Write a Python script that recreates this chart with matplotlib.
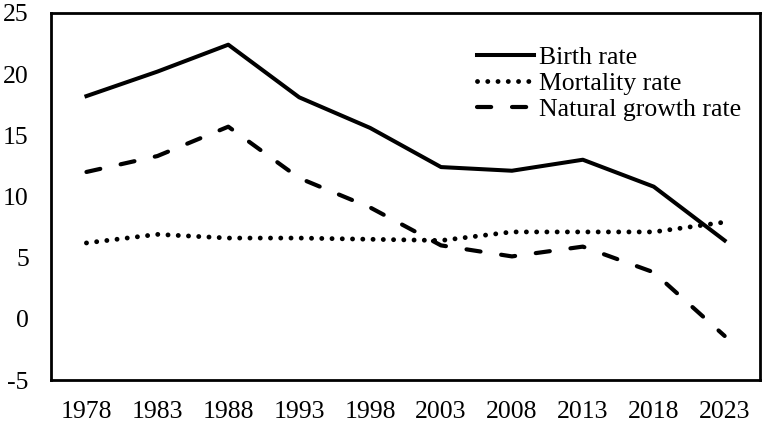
import matplotlib.pyplot as plt
import numpy as np

years = ['1978', '1983', '1988', '1993', '1998', '2003', '2008', '2013', '2018', '2023']
birth_rate = [18.2, 20.2, 22.4, 18.1, 15.6, 12.4, 12.1, 13.0, 10.8, 6.4]
mortality_rate = [6.2, 6.9, 6.6, 6.6, 6.5, 6.4, 7.1, 7.1, 7.1, 7.9]
growth_rate = [12.0, 13.3, 15.7, 11.5, 9.1, 6.0, 5.1, 5.9, 3.8, -1.4]

plt.rcParams['font.family'] = ['Liberation Serif', 'DejaVu Serif']
plt.rcParams['axes.unicode_minus'] = False

fig = plt.figure(figsize=(7.67, 4.22), dpi=100)
ax = fig.add_axes([0.0665, 0.0995, 0.9245, 0.87])

x = np.arange(len(years))
ax.plot(x, birth_rate, color='black', linewidth=2.9, label='Birth rate')
ax.plot(x, mortality_rate, color='black', linewidth=3.5, linestyle=(0, (0.01, 2.1)),
        dash_capstyle='round', label='Mortality rate')
ax.plot(x, growth_rate, color='black', linewidth=3.0, linestyle=(0, (3.4, 5.0)),
        dash_capstyle='round', label='Natural growth rate')

ax.set_xlim(-0.5, 9.5)
ax.set_ylim(-5, 25)
ax.set_xticks(x)
ax.set_xticklabels(years)
ax.set_yticks(range(-5, 26, 5))
ax.tick_params(length=0, labelsize=18.5)
ax.tick_params(axis='x', pad=15)
ax.tick_params(axis='y', pad=16)
for s in ax.spines.values():
    s.set_linewidth(2)

ax.legend(loc='upper left', bbox_to_anchor=(0.601, 0.91), frameon=False, fontsize=18.5,
          handlelength=2.2, handletextpad=0.2, labelspacing=0.12, borderaxespad=0,
          borderpad=0)

plt.savefig('out.png', dpi=100)
